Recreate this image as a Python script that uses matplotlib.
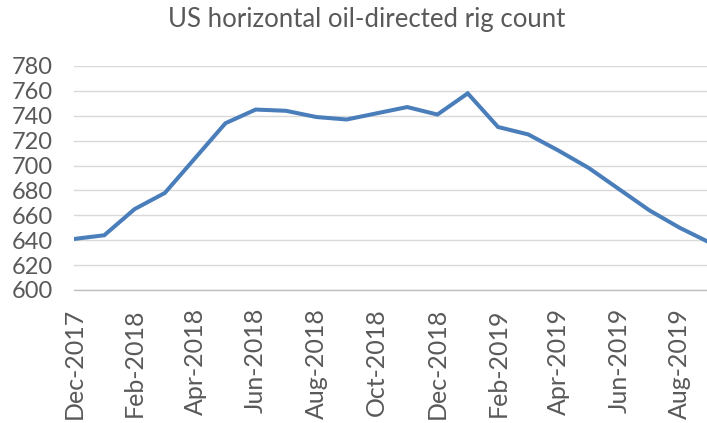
import matplotlib
matplotlib.use("Agg")
import matplotlib.pyplot as plt

# monthly rig counts, Dec-2017 .. Sep-2019
months = ["Dec-2017", "Jan-2018", "Feb-2018", "Mar-2018", "Apr-2018", "May-2018",
          "Jun-2018", "Jul-2018", "Aug-2018", "Sep-2018", "Oct-2018", "Nov-2018",
          "Dec-2018", "Jan-2019", "Feb-2019", "Mar-2019", "Apr-2019", "May-2019",
          "Jun-2019", "Jul-2019", "Aug-2019", "Sep-2019"]
rigs = [641, 644, 665, 678, 706, 734, 745, 744, 739, 737, 742, 747,
        741, 758, 731, 725, 712, 698, 681, 664, 650, 638]
yticks = [600, 620, 640, 660, 680, 700, 720, 740, 760, 780]

plt.rcParams['font.family'] = ['Lato', 'DejaVu Sans']
grey = '#595959'

fig = plt.figure(figsize=(7.07, 4.23), dpi=100)
W, H = 707, 423
ax = fig.add_axes([74 / W, 1 - 290 / H, (710 - 74) / W, 224 / H])

x = list(range(len(months)))
ax.plot(x, rigs, color='#4A7EBB', linewidth=2.9, solid_joinstyle='miter', zorder=3)

ax.set_xlim(0, len(months) - 1)
ax.set_ylim(600, 780)
ax.set_yticks(yticks)
ax.set_xticks(x[::2])
ax.set_xticklabels(months[::2], rotation=90)

ax.grid(axis='y', color='#D9D9D9', linewidth=1)
ax.set_axisbelow(True)
for s in ['top', 'right', 'left']:
    ax.spines[s].set_visible(False)
ax.spines['bottom'].set_color('#BFBFBF')
ax.spines['bottom'].set_linewidth(1)

ax.tick_params(axis='y', length=0, pad=15, labelsize=17, labelcolor=grey)
ax.tick_params(axis='x', length=0, pad=13, labelsize=18, labelcolor=grey)

fig.text(367 / W, 1 - 20 / H, 'US horizontal oil-directed rig count',
         ha='center', va='center', fontsize=18.5, color=grey)

fig.savefig('out.png', dpi=100)
